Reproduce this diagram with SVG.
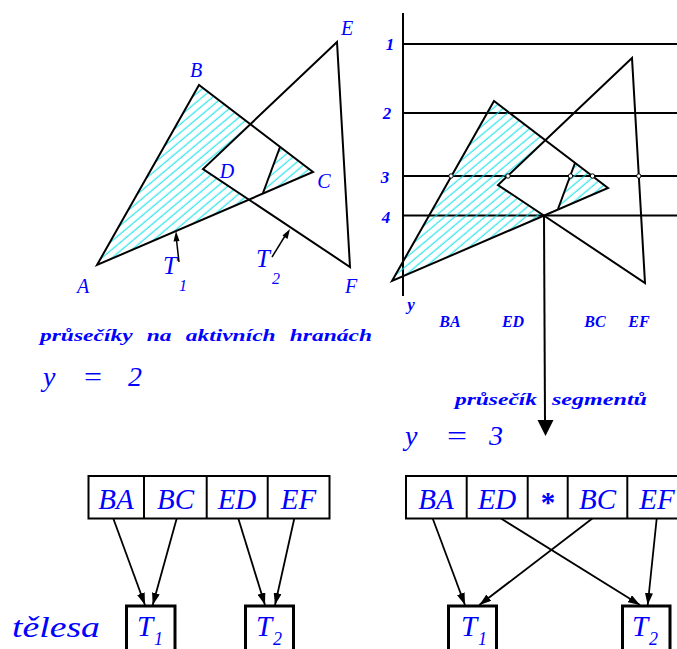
<svg xmlns="http://www.w3.org/2000/svg" width="677" height="649" viewBox="0 0 677 649">
<style>
.ln{fill:none;stroke:#000;stroke-width:2;stroke-linejoin:miter}
.lbl{font-family:"Liberation Serif",serif;font-style:italic;fill:#0000ff}
.bld{font-family:"Liberation Serif",serif;font-style:italic;font-weight:bold;fill:#0000ff}
.box{fill:#fff;stroke:#000;stroke-width:2}
.tbox{fill:#fff;stroke:#000;stroke-width:3}
.con{fill:none;stroke:#000;stroke-width:1.8}
.pt{fill:#fff;stroke:#000;stroke-width:1}
</style>
<defs>
<pattern id="hatch" patternUnits="userSpaceOnUse" width="8" height="6.5" patternTransform="rotate(-40)">
<line x1="0" y1="3" x2="8" y2="3" stroke="#00e0e8" stroke-width="1"/>
</pattern>
<marker id="ah" viewBox="0 0 12 8" refX="12" refY="4" markerWidth="12" markerHeight="8" markerUnits="userSpaceOnUse" orient="auto">
<path d="M0,0 L12,4 L0,8 Z" fill="#000"/>
</marker>
<g id="fig">
<path d="M97,265 L199,85 L313,172 Z M250,124.3 L203,169 L249,199.6 L263,193 L280,147 Z" fill="url(#hatch)" fill-rule="evenodd"/>
<path class="ln" d="M97,265 L199,85 L313,172 Z"/>
<path class="ln" d="M337,42 L203,169 L350,267 Z"/>
<path class="ln" d="M280,147 L263,193"/>
</g>
</defs>

<g id="left-figure">
<use href="#fig"/>
<g id="arrows-T" class="ln">
<line x1="179" y1="262" x2="176.5" y2="240" stroke-width="1.5"/>
<line x1="272" y1="257" x2="285" y2="236" stroke-width="1.5"/>
</g>
<path d="M176,231 L179.5,241 L173.5,241.5 Z" fill="#000"/>
<path d="M290,229 L287.5,239 L282.5,235.5 Z" fill="#000"/>
<g class="lbl" font-size="20" text-anchor="middle">
<text x="196" y="77">B</text>
<text x="83" y="293">A</text>
<text x="324" y="188">C</text>
<text x="227" y="178">D</text>
<text x="347" y="35">E</text>
<text x="351" y="293">F</text>
<text x="170" y="274" font-size="25">T</text>
<text x="183" y="291" font-size="16">1</text>
<text x="263" y="267" font-size="25">T</text>
<text x="276" y="284" font-size="16">2</text>
</g>
</g>

<g id="right-figure">
<line class="ln" x1="403" y1="13" x2="403" y2="296"/>
<g class="ln">
<line x1="403" y1="44" x2="677" y2="44"/>
<line x1="403" y1="113" x2="677" y2="113"/>
<line x1="403" y1="176" x2="677" y2="176"/>
<line x1="403" y1="215.5" x2="677" y2="215.5"/>
</g>
<use href="#fig" transform="translate(295,16)"/>
<g class="pt">
<circle cx="451" cy="176" r="2.2"/>
<circle cx="508" cy="176" r="2.2"/>
<circle cx="570.5" cy="176" r="2.2"/>
<circle cx="592.5" cy="176" r="2.2"/>
<circle cx="638.8" cy="176" r="2.2"/>
</g>
<g class="bld" font-size="17" text-anchor="middle">
<text x="390" y="50">1</text>
<text x="387" y="119">2</text>
<text x="385" y="183">3</text>
<text x="386" y="223">4</text>
<text x="411" y="310">y</text>
<text x="450" y="327" font-size="16">BA</text>
<text x="513" y="327" font-size="16">ED</text>
<text x="595" y="327" font-size="16">BC</text>
<text x="639" y="327" font-size="16">EF</text>
</g>
<line class="ln" x1="544" y1="215.5" x2="545" y2="422"/>
<path d="M545.5,436 L537.5,420 L553.5,420 Z" fill="#000"/>
</g>

<g id="captions">
<text class="bld" x="40" y="341" font-size="17" word-spacing="6" textLength="332" lengthAdjust="spacingAndGlyphs">průsečíky na aktivních hranách</text>
<g class="lbl" font-size="28">
<text x="43" y="386">y</text>
<text x="84" y="386" textLength="18" lengthAdjust="spacingAndGlyphs" font-style="normal">=</text>
<text x="128" y="386">2</text>
<text x="405" y="445">y</text>
<text x="447" y="445" textLength="20" lengthAdjust="spacingAndGlyphs" font-style="normal">=</text>
<text x="489" y="445">3</text>
</g>
<text class="bld" x="455" y="405" font-size="17" textLength="82" lengthAdjust="spacingAndGlyphs">průsečík</text>
<text class="bld" x="552" y="405" font-size="17" textLength="95" lengthAdjust="spacingAndGlyphs">segmentů</text>
<text class="lbl" x="12" y="637" font-size="29" textLength="88" lengthAdjust="spacingAndGlyphs">tělesa</text>
</g>

<g id="list-left">
<rect class="box" x="88.5" y="476" width="241" height="42.5"/>
<g class="ln"><line x1="144" y1="476" x2="144" y2="518.5"/><line x1="206.7" y1="476" x2="206.7" y2="518.5"/><line x1="267.7" y1="476" x2="267.7" y2="518.5"/></g>
<g class="lbl" font-size="29" text-anchor="middle">
<text x="116" y="509">BA</text>
<text x="175.5" y="509">BC</text>
<text x="237" y="509">ED</text>
<text x="298.5" y="509">EF</text>
</g>
</g>

<g id="list-right">
<rect class="box" x="406" y="476" width="290" height="42.5"/>
<g class="ln"><line x1="466.7" y1="476" x2="466.7" y2="518.5"/><line x1="527.7" y1="476" x2="527.7" y2="518.5"/><line x1="567.7" y1="476" x2="567.7" y2="518.5"/><line x1="627.3" y1="476" x2="627.3" y2="518.5"/></g>
<g class="lbl" font-size="29" text-anchor="middle">
<text x="436" y="509">BA</text>
<text x="497" y="509">ED</text>
<text x="548" y="512" font-style="normal" font-weight="bold">*</text>
<text x="597.5" y="509">BC</text>
<text x="657" y="509">EF</text>
</g>
</g>

<g id="T1-left"><rect class="tbox" x="126.5" y="606" width="48.5" height="60"/><text class="lbl" x="137" y="636" font-size="29">T</text><text class="lbl" x="154" y="645" font-size="18">1</text></g>
<g id="T2-left"><rect class="tbox" x="245.5" y="606" width="48" height="60"/><text class="lbl" x="256" y="636" font-size="29">T</text><text class="lbl" x="273" y="645" font-size="18">2</text></g>
<g id="T1-right"><rect class="tbox" x="448.5" y="606" width="48" height="60"/><text class="lbl" x="461" y="636" font-size="29">T</text><text class="lbl" x="478" y="645" font-size="18">1</text></g>
<g id="T2-right"><rect class="tbox" x="622.5" y="606" width="47.5" height="60"/><text class="lbl" x="632" y="636" font-size="29">T</text><text class="lbl" x="649" y="645" font-size="18">2</text></g>

<g id="connectors" class="con" marker-end="url(#ah)">
<line x1="113.3" y1="518.5" x2="145" y2="605"/>
<line x1="176.7" y1="518.5" x2="152.7" y2="605"/>
<line x1="238.3" y1="518.5" x2="265" y2="605"/>
<line x1="294.3" y1="518.5" x2="275" y2="605"/>
<line x1="432.7" y1="518.5" x2="465" y2="605"/>
<line x1="501" y1="518.5" x2="640" y2="605"/>
<line x1="592.3" y1="518.5" x2="479.3" y2="605"/>
<line x1="656.7" y1="518.5" x2="647.7" y2="605"/>
</g>
</svg>
